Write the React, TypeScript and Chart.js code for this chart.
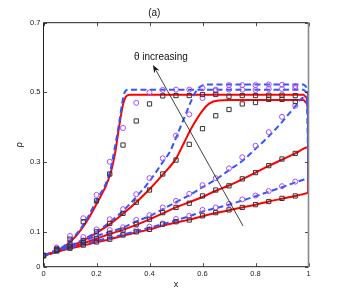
import React, { useEffect, useRef } from "react";
import { Chart, registerables } from "chart.js";
Chart.register(...registerables);

const titleText = "(a)";
const xTitle = "x";
const yTitle = "ρ";
const annotationText = "θ increasing";
const xTicks = [0, 0.2, 0.4, 0.6, 0.8, 1];
const yTicks = [0, 0.1, 0.3, 0.5, 0.7];
const sampleX = [0, 0.05, 0.1, 0.15, 0.2, 0.25, 0.3, 0.35, 0.4, 0.45, 0.5, 0.55, 0.6, 0.65, 0.7, 0.75, 0.8, 0.85, 0.9, 0.95];

// square markers (model A)
const sq1 = [0.032, 0.05, 0.079, 0.129, 0.189, 0.266, 0.349, 0.418, 0.467, 0.49, 0.491, 0.491, 0.494, 0.494, 0.489, 0.491, 0.491, 0.492, 0.492, 0.491];
const sq2 = [0.032, 0.047, 0.062, 0.075, 0.1, 0.124, 0.153, 0.185, 0.22, 0.266, 0.306, 0.351, 0.396, 0.433, 0.451, 0.467, 0.471, 0.48, 0.48, 0.474];
const sq3 = [0.032, 0.048, 0.057, 0.069, 0.081, 0.096, 0.105, 0.122, 0.136, 0.155, 0.17, 0.182, 0.203, 0.22, 0.232, 0.252, 0.27, 0.29, 0.309, 0.325];
const sq4 = [0.032, 0.045, 0.053, 0.062, 0.071, 0.079, 0.091, 0.1, 0.107, 0.122, 0.129, 0.134, 0.146, 0.155, 0.163, 0.17, 0.178, 0.187, 0.196, 0.203];

// circle markers (model B)
const circ1 = [0.032, 0.055, 0.088, 0.139, 0.206, 0.301, 0.398, 0.47, 0.5, 0.507, 0.508, 0.508, 0.512, 0.508, 0.508, 0.508, 0.507, 0.51, 0.51, 0.512];
const circ2 = [0.032, 0.052, 0.07, 0.085, 0.107, 0.136, 0.165, 0.208, 0.254, 0.311, 0.376, 0.437, 0.484, 0.505, 0.521, 0.521, 0.521, 0.523, 0.522, 0.518];
const circ3 = [0.032, 0.052, 0.064, 0.075, 0.091, 0.105, 0.113, 0.134, 0.148, 0.17, 0.189, 0.209, 0.234, 0.254, 0.282, 0.314, 0.347, 0.386, 0.43, 0.462];
const circ4 = [0.032, 0.05, 0.057, 0.067, 0.077, 0.084, 0.093, 0.105, 0.115, 0.124, 0.137, 0.146, 0.163, 0.17, 0.18, 0.193, 0.204, 0.217, 0.231, 0.244];

// solid red curves (model A), [x, rho]
const red1 = [[0, 0.032], [0.05, 0.044], [0.1, 0.07], [0.15, 0.115], [0.2, 0.18], [0.25, 0.26], [0.27, 0.325], [0.285, 0.4], [0.3, 0.465], [0.31, 0.487], [0.325, 0.493], [0.98, 0.493], [0.992, 0.485], [0.998, 0.45], [1, 0.21]];
const red2 = [[0, 0.032], [0.05, 0.043], [0.1, 0.058], [0.15, 0.075], [0.2, 0.097], [0.25, 0.122], [0.3, 0.152], [0.35, 0.185], [0.4, 0.222], [0.45, 0.264], [0.5, 0.31], [0.53, 0.355], [0.56, 0.4], [0.6, 0.448], [0.625, 0.468], [0.66, 0.477], [0.7, 0.478], [0.98, 0.478], [0.992, 0.47], [0.998, 0.44], [1, 0.21]];
const red3 = [[0, 0.032], [0.05, 0.044], [0.1, 0.055], [0.15, 0.067], [0.2, 0.08], [0.25, 0.094], [0.3, 0.106], [0.35, 0.12], [0.4, 0.136], [0.45, 0.153], [0.5, 0.17], [0.55, 0.185], [0.6, 0.2], [0.65, 0.218], [0.7, 0.233], [0.75, 0.251], [0.8, 0.27], [0.85, 0.289], [0.9, 0.307], [0.95, 0.325], [0.998, 0.343], [1, 0.21]];
const red4 = [[0, 0.032], [0.05, 0.043], [0.1, 0.052], [0.15, 0.061], [0.2, 0.07], [0.25, 0.079], [0.3, 0.089], [0.35, 0.098], [0.4, 0.107], [0.45, 0.118], [0.5, 0.127], [0.55, 0.135], [0.6, 0.145], [0.65, 0.154], [0.7, 0.162], [0.75, 0.17], [0.8, 0.178], [0.85, 0.187], [0.9, 0.195], [0.95, 0.203], [1, 0.212]];

// dashed blue curves (model B), [x, rho]
const blue1 = [[0, 0.032], [0.05, 0.046], [0.1, 0.074], [0.15, 0.12], [0.2, 0.19], [0.25, 0.27], [0.27, 0.345], [0.285, 0.41], [0.297, 0.47], [0.305, 0.498], [0.318, 0.508], [0.98, 0.508], [0.992, 0.5], [0.998, 0.47], [1, 0.25]];
const blue2 = [[0, 0.032], [0.05, 0.045], [0.1, 0.06], [0.15, 0.078], [0.2, 0.1], [0.25, 0.128], [0.3, 0.16], [0.35, 0.2], [0.4, 0.245], [0.45, 0.3], [0.477, 0.33], [0.5, 0.37], [0.53, 0.425], [0.56, 0.48], [0.58, 0.508], [0.6, 0.52], [0.62, 0.523], [0.98, 0.523], [0.992, 0.515], [0.998, 0.48], [1, 0.25]];
const blue3 = [[0, 0.032], [0.05, 0.048], [0.1, 0.06], [0.15, 0.073], [0.2, 0.088], [0.25, 0.1], [0.3, 0.112], [0.35, 0.13], [0.4, 0.145], [0.45, 0.165], [0.5, 0.185], [0.55, 0.205], [0.6, 0.228], [0.65, 0.25], [0.7, 0.277], [0.75, 0.303], [0.8, 0.338], [0.85, 0.374], [0.9, 0.415], [0.95, 0.46], [0.98, 0.485], [0.993, 0.48], [1, 0.25]];
const blue4 = [[0, 0.032], [0.05, 0.046], [0.1, 0.055], [0.15, 0.064], [0.2, 0.074], [0.25, 0.083], [0.3, 0.092], [0.35, 0.102], [0.4, 0.112], [0.45, 0.122], [0.5, 0.133], [0.55, 0.145], [0.6, 0.158], [0.65, 0.168], [0.7, 0.178], [0.75, 0.19], [0.8, 0.202], [0.85, 0.215], [0.9, 0.228], [0.95, 0.242], [1, 0.254]];

// annotation arrow: tail -> head, and label position (data coordinates)
const arrowTail = [0.753, 0.117];
const arrowHead = [0.413, 0.579];
const labelPos = [0.443, 0.602];

const FONT = "'Liberation Sans', Arial, sans-serif";

const toPts = (arr: number[][]) => arr.map(([x, y]) => ({ x, y }));
const toMarkers = (ys: number[]) => ys.map((y, i) => ({ x: sampleX[i], y }));

const framePlugin = {
  id: "frame",
  afterDatasetsDraw(chart: any) {
    const { ctx, chartArea: a, scales } = chart;
    const xs = scales.x, ys = scales.y;
    ctx.save();
    ctx.strokeStyle = "#222";
    ctx.lineWidth = 0.8;
    const tl = 3.5;
    ctx.beginPath();
    xTicks.forEach((v) => {
      const px = Math.round(xs.getPixelForValue(v)) + 0.5;
      ctx.moveTo(px, a.bottom); ctx.lineTo(px, a.bottom - tl);
      ctx.moveTo(px, a.top); ctx.lineTo(px, a.top + tl);
    });
    yTicks.forEach((v) => {
      const py = Math.round(ys.getPixelForValue(v)) + 0.5;
      ctx.moveTo(a.left, py); ctx.lineTo(a.left + tl, py);
      ctx.moveTo(a.right, py); ctx.lineTo(a.right - tl, py);
    });
    ctx.stroke();
    ctx.lineWidth = 1;
    ctx.strokeStyle = "#222";
    ctx.beginPath();
    ctx.moveTo(a.right, a.top); ctx.lineTo(a.left, a.top); ctx.lineTo(a.left, a.bottom); ctx.lineTo(a.right, a.bottom);
    ctx.stroke();
    ctx.strokeStyle = "#888";
    ctx.lineWidth = 1.6;
    ctx.beginPath();
    ctx.moveTo(a.right, a.top); ctx.lineTo(a.right, a.bottom);
    ctx.stroke();

    const x0 = xs.getPixelForValue(arrowTail[0]), y0 = ys.getPixelForValue(arrowTail[1]);
    const x1 = xs.getPixelForValue(arrowHead[0]), y1 = ys.getPixelForValue(arrowHead[1]);
    const ang = Math.atan2(y1 - y0, x1 - x0);
    const hl = 8, hw = 3;
    ctx.strokeStyle = "#111";
    ctx.lineWidth = 0.8;
    ctx.beginPath();
    ctx.moveTo(x0, y0);
    ctx.lineTo(x1 - Math.cos(ang) * hl * 0.8, y1 - Math.sin(ang) * hl * 0.8);
    ctx.stroke();
    ctx.fillStyle = "#111";
    ctx.beginPath();
    ctx.moveTo(x1, y1);
    ctx.lineTo(x1 - Math.cos(ang) * hl - Math.sin(ang) * hw, y1 - Math.sin(ang) * hl + Math.cos(ang) * hw);
    ctx.lineTo(x1 - Math.cos(ang) * hl * 0.7, y1 - Math.sin(ang) * hl * 0.7);
    ctx.lineTo(x1 - Math.cos(ang) * hl + Math.sin(ang) * hw, y1 - Math.sin(ang) * hl - Math.cos(ang) * hw);
    ctx.closePath();
    ctx.fill();

    ctx.fillStyle = "#111";
    ctx.font = `10px ${FONT}`;
    ctx.textAlign = "center";
    ctx.textBaseline = "middle";
    ctx.fillText(annotationText, xs.getPixelForValue(labelPos[0]), ys.getPixelForValue(labelPos[1]));
    ctx.restore();
  },
};

export default function App() {
  const ref = useRef<HTMLCanvasElement | null>(null);
  useEffect(() => {
    document.body.style.margin = "0";
    const red = "#ff0000";
    const blue = "#3355ff";
    const sqColor = "#333333";
    const circColor = "#a64dff";
    const lineDs = (data: number[][], color: string, dashed: boolean) => ({
      data: toPts(data),
      showLine: true,
      borderColor: color,
      borderWidth: 2,
      borderDash: dashed ? [6, 3.5] : [],
      pointRadius: 0,
      fill: false,
      cubicInterpolationMode: "monotone" as const,
      order: 5,
    });
    const markDs = (ys: number[], style: string, color: string, r: number) => ({
      data: toMarkers(ys),
      showLine: false,
      pointStyle: style,
      pointRadius: r,
      pointBorderColor: color,
      pointBackgroundColor: "rgba(0,0,0,0)",
      pointBorderWidth: 1,
      borderColor: color,
      backgroundColor: "rgba(0,0,0,0)",
      order: 1,
    });
    const chart = new Chart(ref.current as HTMLCanvasElement, {
      type: "scatter",
      data: {
        datasets: [
          markDs(sq1, "rect", sqColor, 3),
          markDs(sq2, "rect", sqColor, 3),
          markDs(sq3, "rect", sqColor, 3),
          markDs(sq4, "rect", sqColor, 3),
          markDs(circ1, "circle", circColor, 2.5),
          markDs(circ2, "circle", circColor, 2.5),
          markDs(circ3, "circle", circColor, 2.5),
          markDs(circ4, "circle", circColor, 2.5),
          lineDs(blue1, blue, true),
          lineDs(blue2, blue, true),
          lineDs(blue3, blue, true),
          lineDs(blue4, blue, true),
          lineDs(red1, red, false),
          lineDs(red2, red, false),
          lineDs(red3, red, false),
          lineDs(red4, red, false),
        ] as any,
      },
      options: {
        animation: false,
        responsive: false,
        maintainAspectRatio: false,
        layout: { padding: { left: 0, right: 32.5, top: 0, bottom: 0 } },
        plugins: {
          legend: { display: false },
          tooltip: { enabled: false },
          title: {
            display: true,
            text: titleText,
            color: "#111",
            font: { family: FONT, size: 10, weight: "normal" },
            padding: { top: 7, bottom: 3.7 },
          },
        },
        scales: {
          x: {
            type: "linear",
            min: 0,
            max: 1,
            afterBuildTicks: (s: any) => { s.ticks = xTicks.map((v) => ({ value: v })); },
            afterFit: (s: any) => { s.height = 33.3; },
            grid: { display: false, drawTicks: false },
            border: { display: false },
            ticks: {
              padding: 3,
              color: "#222",
              font: { family: FONT, size: 7.5 },
              callback: (v: any) => String(v),
              maxRotation: 0,
            },
            title: {
              display: true,
              text: xTitle,
              color: "#111",
              font: { family: FONT, size: 9 },
              padding: { top: 0, bottom: 9.6 },
            },
          },
          y: {
            type: "linear",
            min: 0,
            max: 0.7,
            afterBuildTicks: (s: any) => { s.ticks = yTicks.map((v) => ({ value: v })); },
            afterFit: (s: any) => { s.width = 43.5; },
            grid: { display: false, drawTicks: false },
            border: { display: false },
            ticks: {
              padding: 3,
              color: "#222",
              font: { family: FONT, size: 7.5 },
              callback: (v: any) => String(v),
            },
            title: {
              display: true,
              text: yTitle,
              color: "#111",
              font: { family: FONT, size: 9 },
              padding: { top: 14.6, bottom: 0 },
            },
          },
        },
      },
      plugins: [framePlugin],
    });
    return () => chart.destroy();
  }, []);
  return (
    <div style={{ width: 341, height: 300, background: "#fff" }}>
      <canvas ref={ref} width={341} height={300} style={{ display: "block" }} />
    </div>
  );
}
